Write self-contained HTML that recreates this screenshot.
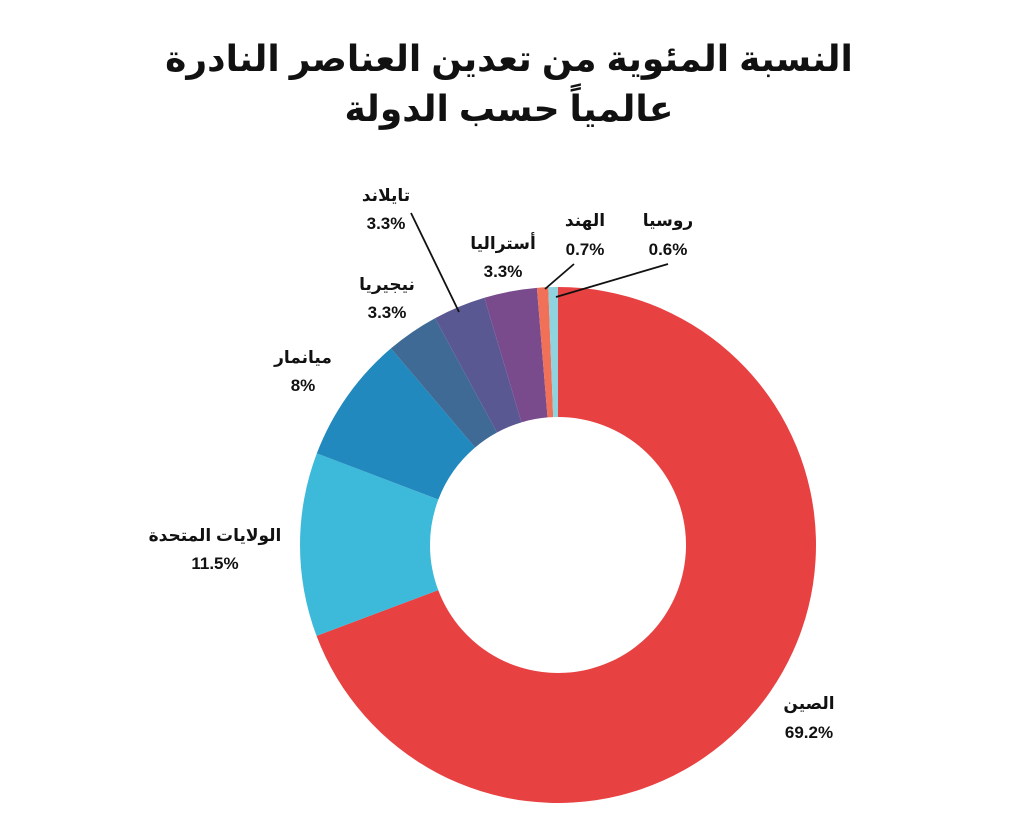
<!DOCTYPE html>
<html><head><meta charset="utf-8"><style>
body{margin:0;background:#fff;width:1024px;height:838px;overflow:hidden}
svg{display:block}
text{font-family:"Liberation Sans","Noto Sans CJK SC","DejaVu Sans",sans-serif;font-weight:bold;fill:#111}
</style></head><body>
<svg id="s" width="1024" height="838" viewBox="0 0 1024 838">
<text x="509" y="71" font-size="36" text-anchor="middle">النسبة المئوية من تعدين العناصر النادرة</text>
<text x="509" y="121" font-size="36" text-anchor="middle">عالمياً حسب الدولة</text>
<g id="pie"></g>
<g font-size="17" text-anchor="middle">
<text x="809" y="709">الصين</text><text x="809" y="738">69.2%</text>
<text x="215" y="541">الولايات المتحدة</text><text x="215" y="569">11.5%</text>
<text x="303" y="363">ميانمار</text><text x="303" y="391">8%</text>
<text x="387" y="290">نيجيريا</text><text x="387" y="318">3.3%</text>
<text x="386" y="201">تايلاند</text><text x="386" y="229">3.3%</text>
<text x="503" y="249">أستراليا</text><text x="503" y="277">3.3%</text>
<text x="585" y="226">الهند</text><text x="585" y="255">0.7%</text>
<text x="668" y="226">روسيا</text><text x="668" y="255">0.6%</text>
</g>
<g stroke="#111" stroke-width="1.8">
<line x1="411" y1="213" x2="459" y2="312"/>
<line x1="574" y1="264" x2="545" y2="289"/>
<line x1="668" y1="264" x2="556" y2="297"/>
</g>
</svg>
<script>
var cx=558,cy=545,R=258,r=128;
var d=[[69.2,"#E84142"],[11.5,"#3DBAD9"],[8,"#2189BD"],[3.3,"#3F6A96"],[3.3,"#5A5893"],[3.3,"#7A4B8C"],[0.7,"#F07058"],[0.6,"#8FD3DF"]];
var tot=0;d.forEach(function(e){tot+=e[0]});
var a=0,g=document.getElementById("pie"),h="";
function p(rad,ang){return [cx+rad*Math.sin(ang),cy-rad*Math.cos(ang)];}
d.forEach(function(e){
 var a0=a/tot*2*Math.PI;a+=e[0];var a1=a/tot*2*Math.PI;
 var l=(a1-a0)>Math.PI?1:0;
 var p1=p(R,a0),p2=p(R,a1),p3=p(r,a1),p4=p(r,a0);
 h+='<path fill="'+e[1]+'" d="M'+p1+'A'+R+','+R+' 0 '+l+' 1 '+p2+'L'+p3+'A'+r+','+r+' 0 '+l+' 0 '+p4+'Z"/>';
});
g.innerHTML=h;
</script>
</body></html>
